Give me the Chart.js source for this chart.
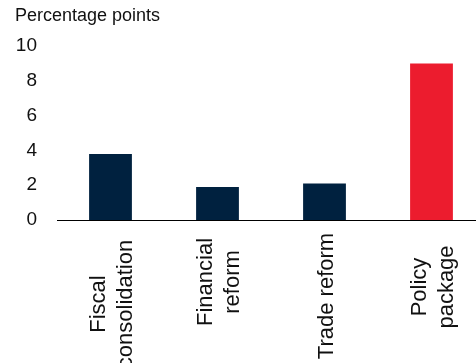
<!DOCTYPE html>
<html>
<head>
<meta charset="utf-8">
<script src="https://cdn.jsdelivr.net/npm/chart.js@4/dist/chart.umd.min.js"></script>
<style>
  html, body { margin: 0; padding: 0; background: #fff; overflow: hidden; }
  #wrap { position: absolute; left: 0; top: 0; width: 485px; height: 363px; }
</style>
</head>
<body>
<div id="wrap"><canvas id="chart"></canvas></div>
<script>
// Category labels, one entry per bar (each inner array is a wrapped label)
const categories = [
  ['Fiscal', 'consolidation'],
  ['Financial', 'reform'],
  ['Trade reform'],
  ['Policy', 'package']
];
// Effect of each reform, percentage points
const values = [3.8, 1.9, 2.1, 9.0];
// Value axis ticks
const yTicks = [0, 2, 4, 6, 8, 10];
const yTitle = 'Percentage points';

const NAVY = '#00213F';
const RED = '#EC1C2E';
const TEXT = '#111111';
const FONT = '"Liberation Sans", Arial, Helvetica, sans-serif';

// Distance from the axis line to the middle of each rotated label block
const labelDrop = [84, 62, 76, 67];

// Rotated, centre-aligned category labels drawn under each bar
const categoryLabels = {
  id: 'categoryLabels',
  afterDraw(chart) {
    const ctx = chart.ctx;
    const xs = chart.scales.x;
    const lineGap = 27;
    ctx.save();
    ctx.font = '22px ' + FONT;
    ctx.fillStyle = TEXT;
    ctx.textAlign = 'center';
    ctx.textBaseline = 'alphabetic';
    categories.forEach((lines, i) => {
      const cx = xs.getPixelForValue(i);
      const cy = chart.chartArea.bottom + labelDrop[i];
      const n = lines.length;
      lines.forEach((line, j) => {
        const bx = cx + 8 + (j - (n - 1) / 2) * lineGap;
        ctx.save();
        ctx.translate(bx, cy);
        ctx.rotate(-Math.PI / 2);
        ctx.fillText(line, 0, 0);
        ctx.restore();
      });
    });
    ctx.restore();
  }
};

new Chart(document.getElementById('chart'), {
  type: 'bar',
  data: {
    labels: categories.map(l => l.join(' ')),
    datasets: [{
      data: values,
      backgroundColor: c => (c.dataIndex === categories.length - 1 ? RED : NAVY),
      borderWidth: 0,
      barPercentage: 0.4,
      categoryPercentage: 1.0
    }]
  },
  options: {
    responsive: true,
    maintainAspectRatio: false,
    animation: false,
    layout: { padding: { left: 15, top: 0, right: 0, bottom: 0 } },
    plugins: {
      legend: { display: false },
      tooltip: { enabled: false },
      title: {
        display: true,
        text: yTitle,
        align: 'start',
        color: TEXT,
        font: { family: FONT, size: 18, weight: 'normal' },
        padding: { top: 5, bottom: 19.4 }
      }
    },
    scales: {
      x: {
        grid: { display: false, drawTicks: false },
        border: { display: true, color: '#000000', width: 1 },
        ticks: { display: false },
        afterFit: s => { s.height = 143; }
      },
      y: {
        min: 0,
        max: 10,
        grid: { display: false, drawTicks: false },
        border: { display: false },
        afterBuildTicks: s => { s.ticks = yTicks.map(v => ({ value: v })); },
        ticks: {
          color: TEXT,
          padding: 20,
          font: { family: FONT, size: 19 }
        },
        afterFit: s => { s.width = 42; }
      }
    }
  },
  plugins: [categoryLabels]
});
</script>
</body>
</html>
